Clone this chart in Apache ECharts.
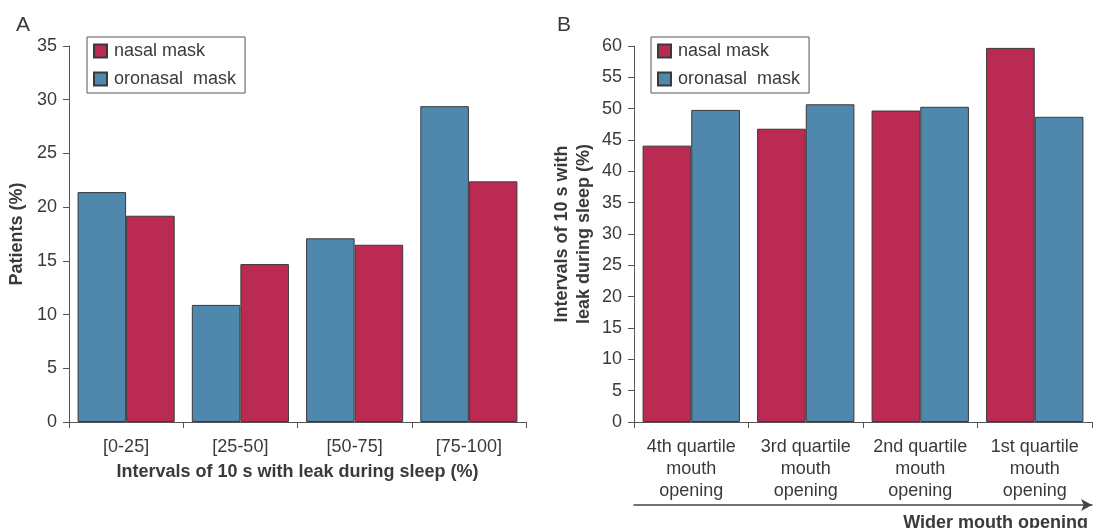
<!DOCTYPE html>
<html>
<head>
<meta charset="utf-8">
<script src="https://cdn.jsdelivr.net/npm/echarts@6/dist/echarts.min.js"></script>
<style>
  html, body { margin: 0; padding: 0; background: #fff; }
  #chart { width: 1096px; height: 528px; }
</style>
</head>
<body>
<div id="chart"></div>
<script>
// panel A: share of patients per leak interval
var leakIntervals = ['[0-25]', '[25-50]', '[50-75]', '[75-100]'];
var patientsOronasal = [21.4, 10.9, 17.1, 29.4];
var patientsNasal = [19.2, 14.7, 16.5, 22.4];

// panel B: leak by mouth opening quartile
var mouthQuartiles = [
    '4th quartile\nmouth\nopening',
    '3rd quartile\nmouth\nopening',
    '2nd quartile\nmouth\nopening',
    '1st quartile\nmouth\nopening'
];
var leakNasal = [44.1, 46.8, 49.7, 59.7];
var leakOronasal = [49.8, 50.7, 50.3, 48.7];

var NASAL = 'nasal mask';
var ORONASAL = 'oronasal  mask';
var red = '#bb2a52';
var blue = '#4f87ad';
var axisColor = '#555';
var textColor = '#3a3a3a';
var font = '"Liberation Sans", Arial, Helvetica, sans-serif';

var chart = echarts.init(document.getElementById('chart'));

function catAxis(gridIndex, data, name) {
    return {
        type: 'category',
        gridIndex: gridIndex,
        data: data,
        name: name,
        nameLocation: 'middle',
        nameGap: 39,
        nameTextStyle: { fontSize: 18, fontWeight: 'bold', color: textColor, fontFamily: font },
        axisLine: { show: true, lineStyle: { color: axisColor, width: 1 } },
        axisTick: { show: true, length: 6, lineStyle: { color: axisColor } },
        axisLabel: { interval: 0, fontSize: 18, color: textColor, fontFamily: font, margin: 14, lineHeight: 22 },
        splitLine: { show: false }
    };
}

function valAxis(gridIndex, max, name, gap) {
    return {
        type: 'value',
        gridIndex: gridIndex,
        min: 0,
        max: max,
        interval: 5,
        name: name,
        nameLocation: 'middle',
        nameGap: gap,
        nameTextStyle: { fontSize: 18, fontWeight: 'bold', color: textColor, fontFamily: font, lineHeight: 22 },
        axisLine: { show: true, lineStyle: { color: axisColor, width: 1 } },
        axisTick: { show: true, length: 6, lineStyle: { color: axisColor } },
        axisLabel: { fontSize: 18, color: textColor, fontFamily: font, margin: 12 },
        splitLine: { show: false }
    };
}

function bars(name, data, color, xi, yi) {
    return {
        name: name,
        type: 'bar',
        xAxisIndex: xi,
        yAxisIndex: yi,
        data: data,
        barGap: '0%',
        barCategoryGap: '15%',
        itemStyle: { color: color, borderColor: '#3a3a3a', borderWidth: 1 }
    };
}

function legendAt(left, top) {
    return {
        left: left,
        top: top,
        orient: 'vertical',
        data: [NASAL, ORONASAL],
        icon: 'rect',
        itemWidth: 13,
        itemHeight: 13,
        itemGap: 10,
        padding: [5, 9, 5, 6],
        borderColor: axisColor,
        borderWidth: 1,
        textStyle: { fontSize: 18, color: textColor, fontFamily: font, padding: [0, 0, 0, 2] }
    };
}

var option = {
    animation: false,
    textStyle: { fontFamily: font },
    title: [
        { text: 'A', left: 11, top: 10, textStyle: { fontSize: 21, fontWeight: 'normal', color: textColor, fontFamily: font } },
        { text: 'B', left: 552, top: 10, textStyle: { fontSize: 21, fontWeight: 'normal', color: textColor, fontFamily: font } }
    ],
    legend: [legendAt(87, 37), legendAt(651, 37)],
    grid: [
        { left: 69, right: 570, top: 46, bottom: 106, outerBoundsMode: 'none' },
        { left: 634, right: 4, top: 46, bottom: 106, outerBoundsMode: 'none' }
    ],
    xAxis: [
        catAxis(0, leakIntervals, 'Intervals of 10 s with leak during sleep (%)'),
        catAxis(1, mouthQuartiles, ''),
        {
            // arrow under panel B
            type: 'value',
            gridIndex: 1,
            min: 0,
            max: 1,
            position: 'bottom',
            offset: 83,
            name: 'Wider mouth opening',
            nameLocation: 'end',
            nameGap: -4,
            nameTextStyle: {
                fontSize: 18, fontWeight: 'bold', color: textColor, fontFamily: font,
                align: 'right', verticalAlign: 'top', padding: [9, 0, 0, 0]
            },
            axisLine: { show: true, symbol: ['none', 'arrow'], symbolSize: [9, 11], lineStyle: { color: '#444', width: 1.5 } },
            axisTick: { show: false },
            axisLabel: { show: false },
            splitLine: { show: false }
        }
    ],
    yAxis: [
        valAxis(0, 35, 'Patients (%)', 41),
        valAxis(1, 60, 'Intervals of 10 s with\nleak during sleep (%)', 39)
    ],
    series: [
        bars(ORONASAL, patientsOronasal, blue, 0, 0),
        bars(NASAL, patientsNasal, red, 0, 0),
        bars(NASAL, leakNasal, red, 1, 1),
        bars(ORONASAL, leakOronasal, blue, 1, 1)
    ]
};

chart.setOption(option);
</script>
</body>
</html>
